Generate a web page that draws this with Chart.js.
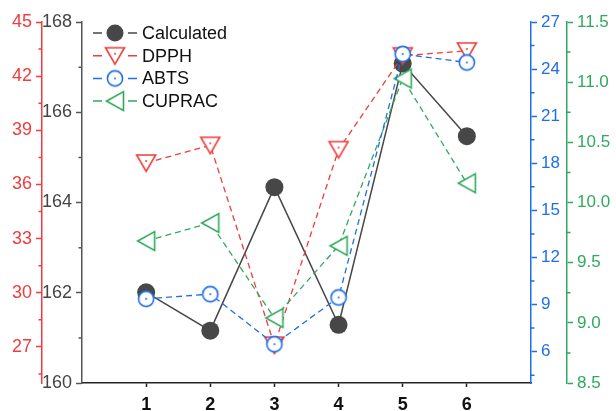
<!DOCTYPE html>
<html>
<head>
<meta charset="utf-8">
<script src="https://cdn.jsdelivr.net/npm/chart.js@4.4.0/dist/chart.umd.min.js"></script>
<style>
  html, body { margin: 0; padding: 0; background: #fff; }
  #wrap { width: 616px; height: 411px; }
</style>
</head>
<body>
<div id="wrap"><canvas id="activity-chart" width="616" height="411"></canvas></div>
<script>
const categories = [1, 2, 3, 4, 5, 6];
const calculated = [162.01, 161.16, 164.34, 161.29, 167.08, 165.47];
const dpph = [37.19, 38.17, 27.1, 37.93, 43.13, 43.4];
const abts = [9.36, 9.66, 6.47, 9.45, 24.96, 24.42];
const cuprac = [9.68, 9.83, 9.04, 9.64, 11.03, 10.16];

const calcTicks = [160, 162, 164, 166, 168];
const dpphTicks = [27, 30, 33, 36, 39, 42, 45];
const abtsTicks = [6, 9, 12, 15, 18, 21, 24, 27];
const cupracTicks = [8.5, 9.0, 9.5, 10.0, 10.5, 11.0, 11.5];

const FONT = "'Liberation Sans', Arial, sans-serif";
const GRAY = "#474747";
const RED = "#f03c3c";
const BLUE = "#1f6fe8";
const GREEN = "#2eaa5c";

// open markers drawn on small canvases
function marker(kind, color) {
  const c = document.createElement("canvas");
  c.width = 24; c.height = 24;
  const g = c.getContext("2d");
  g.strokeStyle = color; g.fillStyle = "#fff"; g.lineWidth = 1.6;
  g.beginPath();
  if (kind === "down") {
    g.moveTo(2.5, 4); g.lineTo(21.5, 4); g.lineTo(12, 20.5); g.closePath();
  } else if (kind === "circle") {
    g.arc(12, 12, 7.6, 0, Math.PI * 2);
  } else {
    g.moveTo(3.5, 12); g.lineTo(20.5, 2.5); g.lineTo(20.5, 21.5); g.closePath();
  }
  g.fill(); g.stroke();
  if (kind !== "left") {
    g.fillStyle = color;
    g.beginPath(); g.arc(12, kind === "down" ? 10 : 12, 1, 0, Math.PI * 2); g.fill();
  }
  return c;
}

const pts = vals => categories.map((c, i) => ({ x: c, y: vals[i] }));

function minorOf(major, min) {
  const step = major[1] - major[0];
  const out = [];
  major.forEach(v => { if (v - step / 2 >= min) out.push(v - step / 2); });
  return out;
}

function yAxis(color, labelColor, min, max, major, position, weight, width, size, digits) {
  return {
    type: "linear", position, weight, min, max,
    afterBuildTicks: s => { s.ticks = major.map(v => ({ value: v })); },
    afterFit: s => { s.width = width; },
    border: { display: true, color, width: 1.5 },
    grid: { drawOnChartArea: false, drawTicks: true, tickLength: 6, color, tickWidth: 1.5 },
    ticks: {
      color: labelColor, padding: 4, autoSkip: false,
      font: { family: FONT, size },
      callback: v => v.toFixed(digits)
    }
  };
}

const minorMap = {
  yCalc: minorOf(calcTicks, 160),
  yDpph: minorOf(dpphTicks, 25),
  yAbts: minorOf(abtsTicks, 4),
  yCuprac: minorOf(cupracTicks, 8.5)
};

const minorTicks = {
  id: "minorTicks",
  afterDraw(chart) {
    const ctx = chart.ctx;
    Object.keys(minorMap).forEach(id => {
      const s = chart.scales[id];
      const left = s.position === "left";
      const x0 = left ? s.right : s.left;
      ctx.save();
      ctx.strokeStyle = s.options.border.color;
      ctx.lineWidth = 1.5;
      ctx.beginPath();
      minorMap[id].forEach(v => {
        const y = s.getPixelForValue(v);
        ctx.moveTo(x0, y);
        ctx.lineTo(x0 + (left ? -3.5 : 3.5), y);
      });
      ctx.stroke();
      ctx.restore();
    });
  }
};

const legendBox = {
  id: "legendBox",
  afterDraw(chart) {
    const ctx = chart.ctx;
    chart.data.datasets.forEach((ds, i) => {
      const y = 33 + i * 22.7;
      ctx.save();
      ctx.strokeStyle = ds.borderColor;
      ctx.lineWidth = 1.5;
      ctx.beginPath();
      ctx.moveTo(93, y); ctx.lineTo(102, y);
      ctx.moveTo(128, y); ctx.lineTo(137, y);
      ctx.stroke();
      if (typeof ds.pointStyle === "string") {
        ctx.fillStyle = ds.pointBackgroundColor;
        ctx.beginPath(); ctx.arc(115, y, 8.5, 0, Math.PI * 2); ctx.fill();
      } else {
        ctx.drawImage(ds.pointStyle, 115 - 12, y - 12);
      }
      ctx.fillStyle = "#111";
      ctx.font = "18px " + FONT;
      ctx.textBaseline = "middle";
      ctx.fillText(ds.label, 142, y + 1);
      ctx.restore();
    });
  }
};

new Chart("activity-chart", {
  type: "line",
  data: {
    datasets: [
      {
        label: "Calculated", data: pts(calculated), yAxisID: "yCalc", order: 4,
        borderColor: GRAY, borderWidth: 1.5,
        pointStyle: "circle", pointRadius: 9, pointBackgroundColor: GRAY, pointBorderWidth: 0
      },
      {
        label: "DPPH", data: pts(dpph), yAxisID: "yDpph", order: 3,
        borderColor: RED, borderWidth: 1.3, borderDash: [6, 4],
        pointStyle: marker("down", RED), pointRadius: 10
      },
      {
        label: "ABTS", data: pts(abts), yAxisID: "yAbts", order: 1,
        borderColor: BLUE, borderWidth: 1.3, borderDash: [6, 4],
        pointStyle: marker("circle", BLUE), pointRadius: 10
      },
      {
        label: "CUPRAC", data: pts(cuprac), yAxisID: "yCuprac", order: 2,
        borderColor: GREEN, borderWidth: 1.3, borderDash: [6, 4],
        pointStyle: marker("left", GREEN), pointRadius: 10
      }
    ]
  },
  options: {
    responsive: false,
    animation: false,
    layout: { padding: { top: 22, left: 0, right: 0, bottom: 0 } },
    plugins: { legend: { display: false }, tooltip: { enabled: false } },
    scales: {
      x: {
        type: "linear", min: 0, max: 7,
        afterBuildTicks: s => { s.ticks = categories.map(v => ({ value: v })); },
        afterFit: s => { s.height = 28; },
        border: { display: true, color: "#222", width: 1.5 },
        grid: { drawOnChartArea: false, tickLength: 4, color: "#222", tickWidth: 1.5 },
        ticks: {
          color: "#111", padding: 7, autoSkip: false, maxRotation: 0,
          font: { family: FONT, size: 18, weight: "bold" }
        }
      },
      yCalc: yAxis("#555", "#444", 160, 168, calcTicks, "left", 1, 40, 18, 0),
      yDpph: yAxis(RED, RED, 25, 45, dpphTicks, "left", 2, 42, 18, 0),
      yAbts: yAxis(BLUE, BLUE, 4, 27, abtsTicks, "right", 1, 36, 17, 0),
      yCuprac: yAxis(GREEN, GREEN, 8.5, 11.5, cupracTicks, "right", 2, 49, 17, 1)
    }
  },
  plugins: [minorTicks, legendBox]
});
</script>
</body>
</html>
